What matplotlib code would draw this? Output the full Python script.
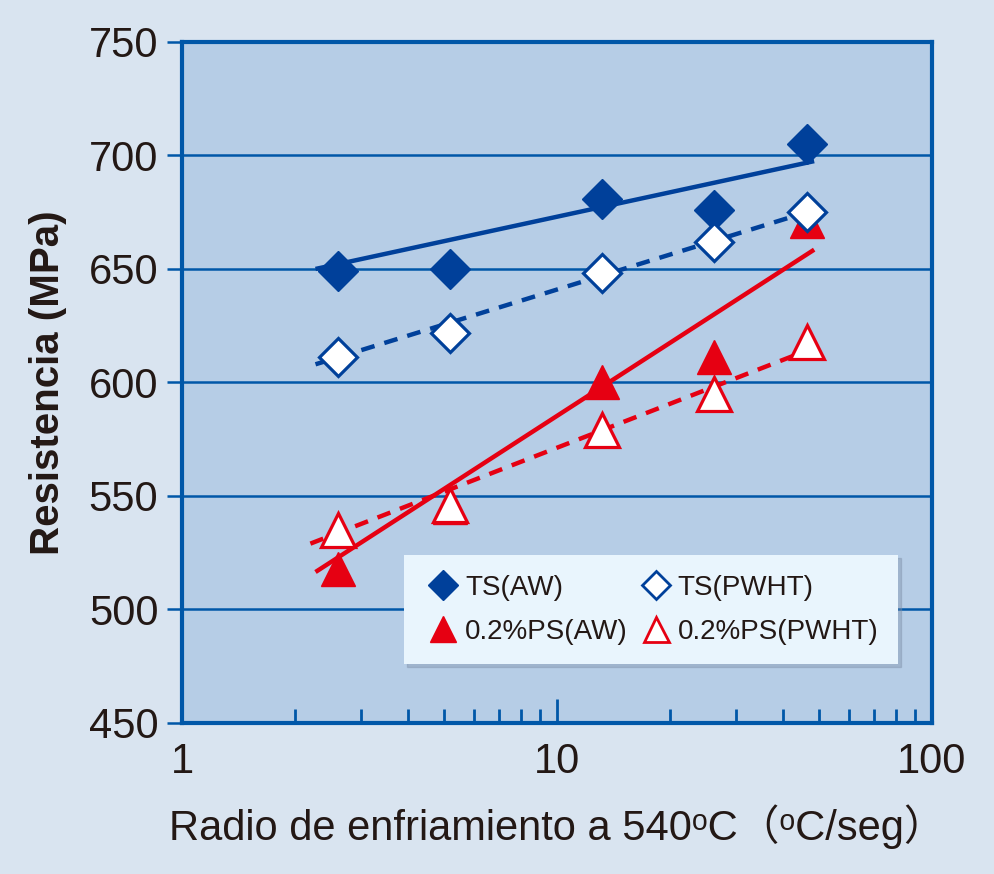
import numpy as np
import matplotlib
matplotlib.use('Agg')
import matplotlib.pyplot as plt
from matplotlib.lines import Line2D
from matplotlib.ticker import LogLocator, FixedLocator, NullFormatter

plt.rcParams['font.family'] = ['Liberation Sans', 'DejaVu Sans', 'Noto Sans CJK JP']

# cooling rate at 540 C (C/s)
rate = [2.6, 5.2, 13.2, 26.3, 46.5]
ts_aw = [649, 650, 681, 676, 705]
ts_pwht = [611, 622, 648, 662, 675]
ps_aw = [518, 545, 600, 611, 671]
ps_pwht = [535, 546, 579, 595, 618]

# trend line end points
fit_x = [2.27, 48.5]
ts_aw_fit = [650, 697.5]
ts_pwht_fit = [608, 676]
ps_aw_fit = [516.5, 658.5]
ps_pwht_fit_x = [2.2, 48.0]
ps_pwht_fit = [529, 615]

yticks = [450, 500, 550, 600, 650, 700, 750]
xticks = [1, 10, 100]
xticklabels = ['1', '10', '100']

BLUE = '#00409a'
AXBLUE = '#0057a8'
RED = '#e60012'
INK = '#231815'

fig = plt.figure(figsize=(9.95, 8.74), dpi=100, facecolor='#d9e4f0')
ax = fig.add_axes([0.1829, 0.1728, 0.7538, 0.7792])
ax.set_facecolor('#b6cde6')

ax.set_xscale('log')
ax.set_xlim(1, 100)
ax.set_ylim(450, 750)

# trend lines
ax.plot(fit_x, ts_aw_fit, color=BLUE, lw=3.2, solid_capstyle='butt', zorder=3)
ax.plot(fit_x, ts_pwht_fit, color=BLUE, lw=3.2, dashes=(3.1, 2.3), zorder=3)
ax.plot(fit_x, ps_aw_fit, color=RED, lw=3.2, solid_capstyle='butt', zorder=3)
ax.plot(ps_pwht_fit_x, ps_pwht_fit, color=RED, lw=3.2, dashes=(3.1, 2.3), zorder=3)

# markers
ax.plot(rate, ts_aw, ls='none', marker='D', ms=20, mfc=BLUE, mec=BLUE, mew=1, zorder=4)
ax.plot(rate, ps_aw, ls='none', marker='^', ms=25, mfc=RED, mec=RED, mew=1, zorder=4)
ax.plot(rate, ts_pwht, ls='none', marker='D', ms=19, mfc='white', mec=BLUE, mew=2.3, zorder=5)
ax.plot(rate, ps_pwht, ls='none', marker='^', ms=24, mfc='white', mec=RED, mew=2.3, zorder=5)

# grid and axes styling
ax.yaxis.set_major_locator(FixedLocator(yticks))
ax.grid(axis='y', color=AXBLUE, lw=1.8, zorder=1)
ax.grid(axis='x', visible=False)
ax.set_axisbelow(True)
for s in ax.spines.values():
    s.set_color(AXBLUE)
    s.set_linewidth(3)
    s.set_zorder(6)

ax.set_xticks(xticks)
ax.set_xticklabels(xticklabels)
ax.xaxis.set_minor_locator(LogLocator(base=10, subs=np.arange(2, 10)))
ax.xaxis.set_minor_formatter(NullFormatter())
ax.tick_params(axis='x', which='major', direction='in', length=17, width=2, color=AXBLUE,
               labelsize=30, labelcolor=INK, pad=14)
ax.tick_params(axis='x', which='minor', direction='in', length=10, width=2, color=AXBLUE)
ax.tick_params(axis='y', which='major', direction='out', length=11, width=1.8, color=AXBLUE,
               labelsize=30, labelcolor=INK, pad=6)
ax.tick_params(axis='y', which='minor', left=False)

ax.set_xlabel('Radio de enfriamiento a 540ᵒC（ᵒC/seg）', fontsize=30,
              color=INK, labelpad=16)
ax.set_ylabel('Resistencia (MPa)', fontsize=29, fontweight='bold', color=INK, labelpad=16)

handles = [
    Line2D([], [], ls='none', marker='D', ms=15, mfc=BLUE, mec=BLUE, label='TS(AW)'),
    Line2D([], [], ls='none', marker='^', ms=19, mfc=RED, mec=RED, label='0.2%PS(AW)'),
    Line2D([], [], ls='none', marker='D', ms=14, mfc='white', mec=BLUE, mew=2, label='TS(PWHT)'),
    Line2D([], [], ls='none', marker='^', ms=18, mfc='white', mec=RED, mew=2, label='0.2%PS(PWHT)'),
]
leg = ax.legend(handles=handles, ncol=2, loc='upper left', bbox_to_anchor=(0.296, 0.246),
                borderaxespad=0, fontsize=20, frameon=True, fancybox=False, framealpha=1,
                facecolor='#e9f5fd', edgecolor='none',
                shadow={'color': '#7d8fa8', 'alpha': 0.4},
                handlelength=1.4, handletextpad=0.1, columnspacing=0.3,
                labelspacing=0.65, borderpad=0.7)
for t in leg.get_texts():
    t.set_color(INK)
leg.set_zorder(10)

fig.savefig('out.png', dpi=100, facecolor=fig.get_facecolor())
